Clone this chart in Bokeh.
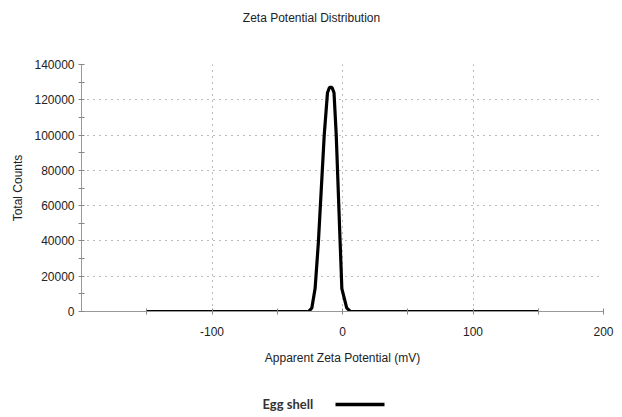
from bokeh.plotting import figure
from bokeh.models import FixedTicker, Range1d, NumeralTickFormatter, Label, Arrow
from bokeh.layouts import column
from bokeh.embed import file_html
from bokeh.resources import INLINE

# Data
zeta_mv = [-150, -26, -23.5, -21, -18.5, -14, -11.5, -10, -8, -6.5, -4.8, -1.8, -0.5, 3.2, 6, 150]
counts = [0, 0, 2000, 13000, 39000, 100000, 124000, 127000, 127000, 124000, 100000, 39000, 13000, 2000, 0, 0]

x_ticks = [-100, 0, 100, 200]
x_minor = [-150, -50, 50, 150]
x_tick_labels = {-100: "-100", 0: "0", 100: "100", 200: "200"}
y_ticks = [0, 20000, 40000, 60000, 80000, 100000, 120000, 140000]
y_minor = [10000, 30000, 50000, 70000, 90000, 110000, 130000]

title_text = "Zeta Potential Distribution"
x_label = "Apparent Zeta Potential (mV)"
y_label = "Total Counts"
series_name = "Egg shell"

W = 614
LEFT = 81
RIGHT = 11


def blank_fig(h):
    # strip whose frame lines up with the main frame; its ranges are in page pixels
    f = figure(width=W, height=h, output_backend="svg", toolbar_location=None,
               x_range=Range1d(LEFT, W - RIGHT), y_range=Range1d(0, h),
               x_axis_location=None, y_axis_location=None,
               min_border=0, min_border_left=LEFT, min_border_right=RIGHT,
               min_border_top=0, min_border_bottom=0)
    f.grid.visible = False
    f.outline_line_color = None
    f.border_fill_color = "white"
    f.background_fill_color = "white"
    return f


# ---- title strip ----
t = blank_fig(34)
t.add_layout(Label(x=311, y=17, text=title_text, text_align="center",
                   text_baseline="middle", text_font="Liberation Sans",
                   text_font_size="12px", text_color="#222222"))

# ---- main chart ----
p = figure(width=W, height=341, output_backend="svg", toolbar_location=None,
           x_range=Range1d(-200, 200), y_range=Range1d(0, 140000),
           min_border_left=LEFT, min_border_right=RIGHT, min_border_top=30, min_border_bottom=64)
p.outline_line_color = None
p.background_fill_color = "white"
p.border_fill_color = "white"

r = p.line(zeta_mv, counts, line_color="black", line_width=3.2)

for ax in (p.xaxis[0], p.yaxis[0]):
    ax.axis_line_color = "#999999"
    ax.major_tick_line_color = "#888888"
    ax.minor_tick_line_color = "#888888"
    ax.major_tick_in = 3
    ax.major_tick_out = 3
    ax.minor_tick_in = 3
    ax.minor_tick_out = 3
    ax.major_label_text_font = "Liberation Sans"
    ax.major_label_text_font_size = "12px"
    ax.major_label_text_color = "#222222"
    ax.axis_label_text_font = "Liberation Sans"
    ax.axis_label_text_font_size = "12px"
    ax.axis_label_text_font_style = "normal"
    ax.axis_label_text_color = "#222222"

p.xaxis[0].ticker = FixedTicker(ticks=x_ticks, minor_ticks=x_minor)
p.xaxis[0].major_label_overrides = x_tick_labels
p.yaxis[0].ticker = FixedTicker(ticks=y_ticks, minor_ticks=y_minor)
p.yaxis[0].formatter = NumeralTickFormatter(format="0")
p.xaxis[0].major_label_standoff = 12
p.xaxis[0].axis_label_standoff = 12
p.yaxis[0].major_label_standoff = 4
p.yaxis[0].axis_label_standoff = 6
p.xaxis[0].axis_label = x_label
p.yaxis[0].axis_label = y_label

for g in (p.xgrid[0], p.ygrid[0]):
    g.grid_line_color = "#777777"
    g.grid_line_dash = "1 5"
    g.grid_line_width = 1
p.xgrid[0].ticker = FixedTicker(ticks=x_ticks)
p.ygrid[0].ticker = FixedTicker(ticks=y_ticks)

# ---- legend strip (label on the left, line key on the right) ----
lg = blank_fig(38)
lg.add_layout(Label(x=262, y=10, text=series_name, text_align="left",
                    text_baseline="middle", text_font="Lato",
                    text_font_size="13px", text_font_style="bold",
                    text_color="#333333"))
lg.add_layout(Arrow(end=None, x_start=335, x_end=384, y_start=9, y_end=9,
                    line_color="black", line_width=3.5))

layout = column(t, p, lg, spacing=0)
open("out.html", "w").write(file_html(layout, INLINE))
